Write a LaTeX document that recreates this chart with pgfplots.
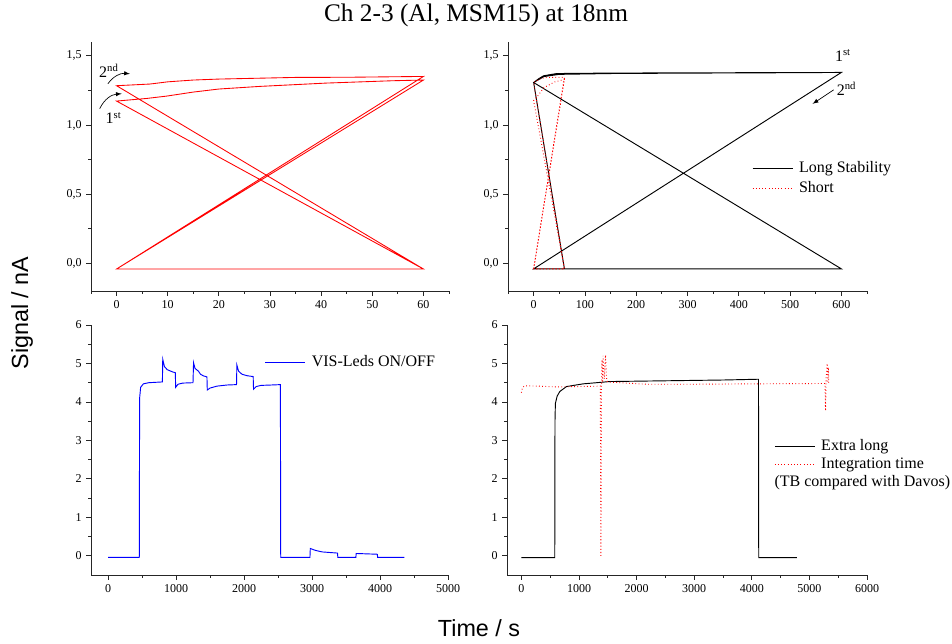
\documentclass[border=0pt]{standalone}
\usepackage{fontspec}
\setmainfont{Liberation Serif}
\newfontfamily\sansfont{Liberation Sans}
\usepackage{pgfplots}
\pgfplotsset{compat=1.18}

\pgfplotsset{
  mystyle/.style={
    scale only axis,
    clip=false,
    axis x line=bottom, axis y line=left,
    axis line style={-, line width=0.6pt, black!85},
    tick align=outside,
    major tick length=3.5pt, minor tick length=2pt,
    every tick/.style={line width=0.6pt, black!85},
    tick label style={font=\fontsize{9pt}{10pt}\selectfont},
    /pgf/number format/assume math mode=true,
    legend cell align=left,
    legend image code/.code={\draw[##1] (0pt,0pt) -- (30pt,0pt);},
    legend style={draw=none, fill=none, inner sep=0pt, outer sep=0pt,
      font=\fontsize{12pt}{14pt}\selectfont,
      nodes={inner sep=0pt, text height=9pt, text depth=3pt},
      /tikz/every odd column/.append style={column sep=4.5pt}},
  },
  topstyle/.style={
    mystyle, height=186.75pt, ymin=-0.2, ymax=1.6,
    ytick={0,0.5,1,1.5}, minor ytick={0.25,0.75,1.25},
    yticklabel style={/pgf/number format/.cd, fixed, fixed zerofill, precision=1, use comma},
  },
  botstyle/.style={
    mystyle, height=187.5pt, ymin=-0.5, ymax=6,
    ytick={0,1,...,6}, minor ytick={0.5,1.5,...,5.5},
    xticklabel style={/pgf/number format/.cd, set thousands separator={}},
  },
  redline/.style={red, line width=0.65pt},
  reddot/.style={red, line width=0.7pt, dash pattern=on 0.6pt off 1.8pt},
  blkline/.style={black, line width=0.7pt},
}

\begin{document}
\begin{tikzpicture}
\path[use as bounding box] (0pt,0pt) rectangle (714pt,482.25pt);

% ---------------- top left ----------------
\begin{axis}[topstyle, at={(68.25pt,264pt)}, anchor=south west, width=268.5pt,
  xmin=-5, xmax=65, xtick={0,10,...,60}, minor xtick={-5,5,...,65}]
\addplot[redline] coordinates {
 (0,-0.041) (60,-0.041) (0,1.173) (5.9,1.192) (9.8,1.209) (15,1.238) (20,1.26)
 (28,1.279) (41,1.303) (54,1.32) (60,1.325) (0,-0.041) (60,-0.041)
 (0,1.284) (6.5,1.296) (10,1.312) (15,1.325) (20,1.332) (35,1.344) (45,1.345)
 (60,1.351) (0,-0.041)
};
\node[font=\fontsize{12pt}{13pt}\selectfont] at (axis cs:-1.5,1.39) {2\textsuperscript{nd}};
\node[font=\fontsize{12pt}{13pt}\selectfont] at (axis cs:-0.6,1.05) {1\textsuperscript{st}};
\draw[-latex, line width=0.5pt] (axis cs:-1.7,1.298) to[bend left=30] (axis cs:2.6,1.37);
\draw[-latex, line width=0.5pt] (axis cs:-3.3,1.118) to[bend left=30] (axis cs:1.0,1.226);
\end{axis}

% ---------------- top right ----------------
\begin{axis}[topstyle, at={(381pt,264pt)}, anchor=south west, width=269.25pt,
  xmin=-50, xmax=650, xtick={0,100,...,600}, minor xtick={-50,50,...,650},
  legend style={at={(0.68,0.526)}, anchor=north west, row sep=3pt}]
\addplot[blkline] coordinates {
 (0,-0.04) (600,-0.04) (0,1.307) (10,1.335) (19.5,1.356) (45,1.372) (100,1.374)
 (200,1.376) (300,1.377) (400,1.378) (500,1.378) (600,1.38) (0,-0.04) (60,-0.04)
 (0,1.307) (20,1.35) (50,1.366) (150,1.372) (300,1.375) (450,1.377) (600,1.38)
 (0,-0.04)
};
\addlegendentry{Long Stability}
\addplot[reddot] coordinates {
 (0,-0.04) (60,-0.04) (0,1.176) (6,1.2) (10,1.22) (20,1.27) (40,1.31) (60,1.33)
 (0,-0.04) (60,-0.04) (0,1.307) (10,1.33) (22,1.343) (60,1.345) (0,-0.04)
};
\addlegendentry{Short}
\node[font=\fontsize{12pt}{13pt}\selectfont] at (axis cs:603,1.5) {1\textsuperscript{st}};
\node[font=\fontsize{12pt}{13pt}\selectfont] at (axis cs:610,1.262) {2\textsuperscript{nd}};
\draw[-latex, line width=0.5pt] (axis cs:585,1.254) -- (axis cs:544,1.153);
\end{axis}

% ---------------- bottom left ----------------
\begin{axis}[botstyle, at={(68.25pt,51pt)}, anchor=south west, width=267.75pt,
  xmin=-250, xmax=5000, xtick={0,1000,...,5000}, minor xtick={500,1500,...,4500},
  legend style={at={(0.487,0.881)}, anchor=north west}]
\addplot[blue, line width=0.7pt] coordinates {
 (0,-0.04) (460,-0.04) (465,4.1) (480,4.38) (520,4.47) (600,4.5) (800,4.52)
 (805,5.11) (830,4.92) (870,4.84) (950,4.78) (990,4.76) (995,4.38) (1030,4.46)
 (1100,4.49) (1250,4.5) (1258,5.02) (1280,4.87) (1330,4.8) (1360,4.72) (1400,4.68)
 (1455,4.65) (1460,4.31) (1500,4.36) (1600,4.41) (1750,4.44) (1890,4.45)
 (1895,4.96) (1920,4.8) (1970,4.72) (2050,4.68) (2135,4.66) (2140,4.33)
 (2180,4.4) (2250,4.43) (2400,4.44) (2535,4.45) (2540,-0.04) (2970,-0.04)
 (2975,0.19) (3050,0.14) (3150,0.1) (3300,0.08) (3375,0.07) (3380,-0.04)
 (3645,-0.04) (3650,0.06) (3800,0.05) (3960,0.04) (3965,-0.04) (4360,-0.04)
};
\addlegendentry{VIS-Leds ON/OFF}
\end{axis}

% ---------------- bottom right ----------------
\begin{axis}[botstyle, at={(380.25pt,51pt)}, anchor=south west, width=270pt,
  xmin=-250, xmax=6000, xtick={0,1000,...,6000}, minor xtick={500,1500,...,5500},
  legend style={at={(0.7425,0.545)}, anchor=north west, row sep=1.5pt}]
\addplot[blkline] coordinates {
 (0,-0.05) (579,-0.05) (583,3.5) (590,3.96) (620,4.15) (666,4.27) (783,4.4)
 (1072,4.47) (1536,4.53) (2520,4.55) (3500,4.57) (4116,4.59) (4120,-0.05)
 (4783,-0.05)
};
\addlegendentry{Extra long}
\addplot[reddot] coordinates {
 (0,4.24) (20,4.38) (60,4.42) (300,4.41) (600,4.39) (1000,4.4) (1370,4.41)
 (1380,0.0) (1390,4.4) (1400,5.1) (1410,4.5) (1420,5.2) (1440,4.6) (1460,5.22)
 (1480,4.55) (1500,4.52) (1700,4.5) (2174,4.46) (3000,4.46) (4000,4.47)
 (5270,4.48) (5280,3.77) (5290,4.6) (5310,5.0) (5320,4.5) (5330,4.9) (5335,4.5)
};
\addlegendentry{Integration time}
\node[anchor=base west, inner sep=0pt, font=\fontsize{12pt}{14pt}\selectfont]
  at (axis description cs:0.7425,0.3532) {(TB compared with Davos)};
\end{axis}

% ---------------- titles ----------------
\node[font=\fontsize{19pt}{22pt}\selectfont] at (357pt,471pt) {Ch 2-3 (Al, MSM15) at 18nm};
\node[font=\sansfont\fontsize{17.5pt}{20pt}\selectfont, rotate=90] at (16.5pt,247.5pt) {Signal / nA};
\node[font=\sansfont\fontsize{17.5pt}{20pt}\selectfont] at (359.25pt,11.25pt) {Time / s};
\end{tikzpicture}
\end{document}
